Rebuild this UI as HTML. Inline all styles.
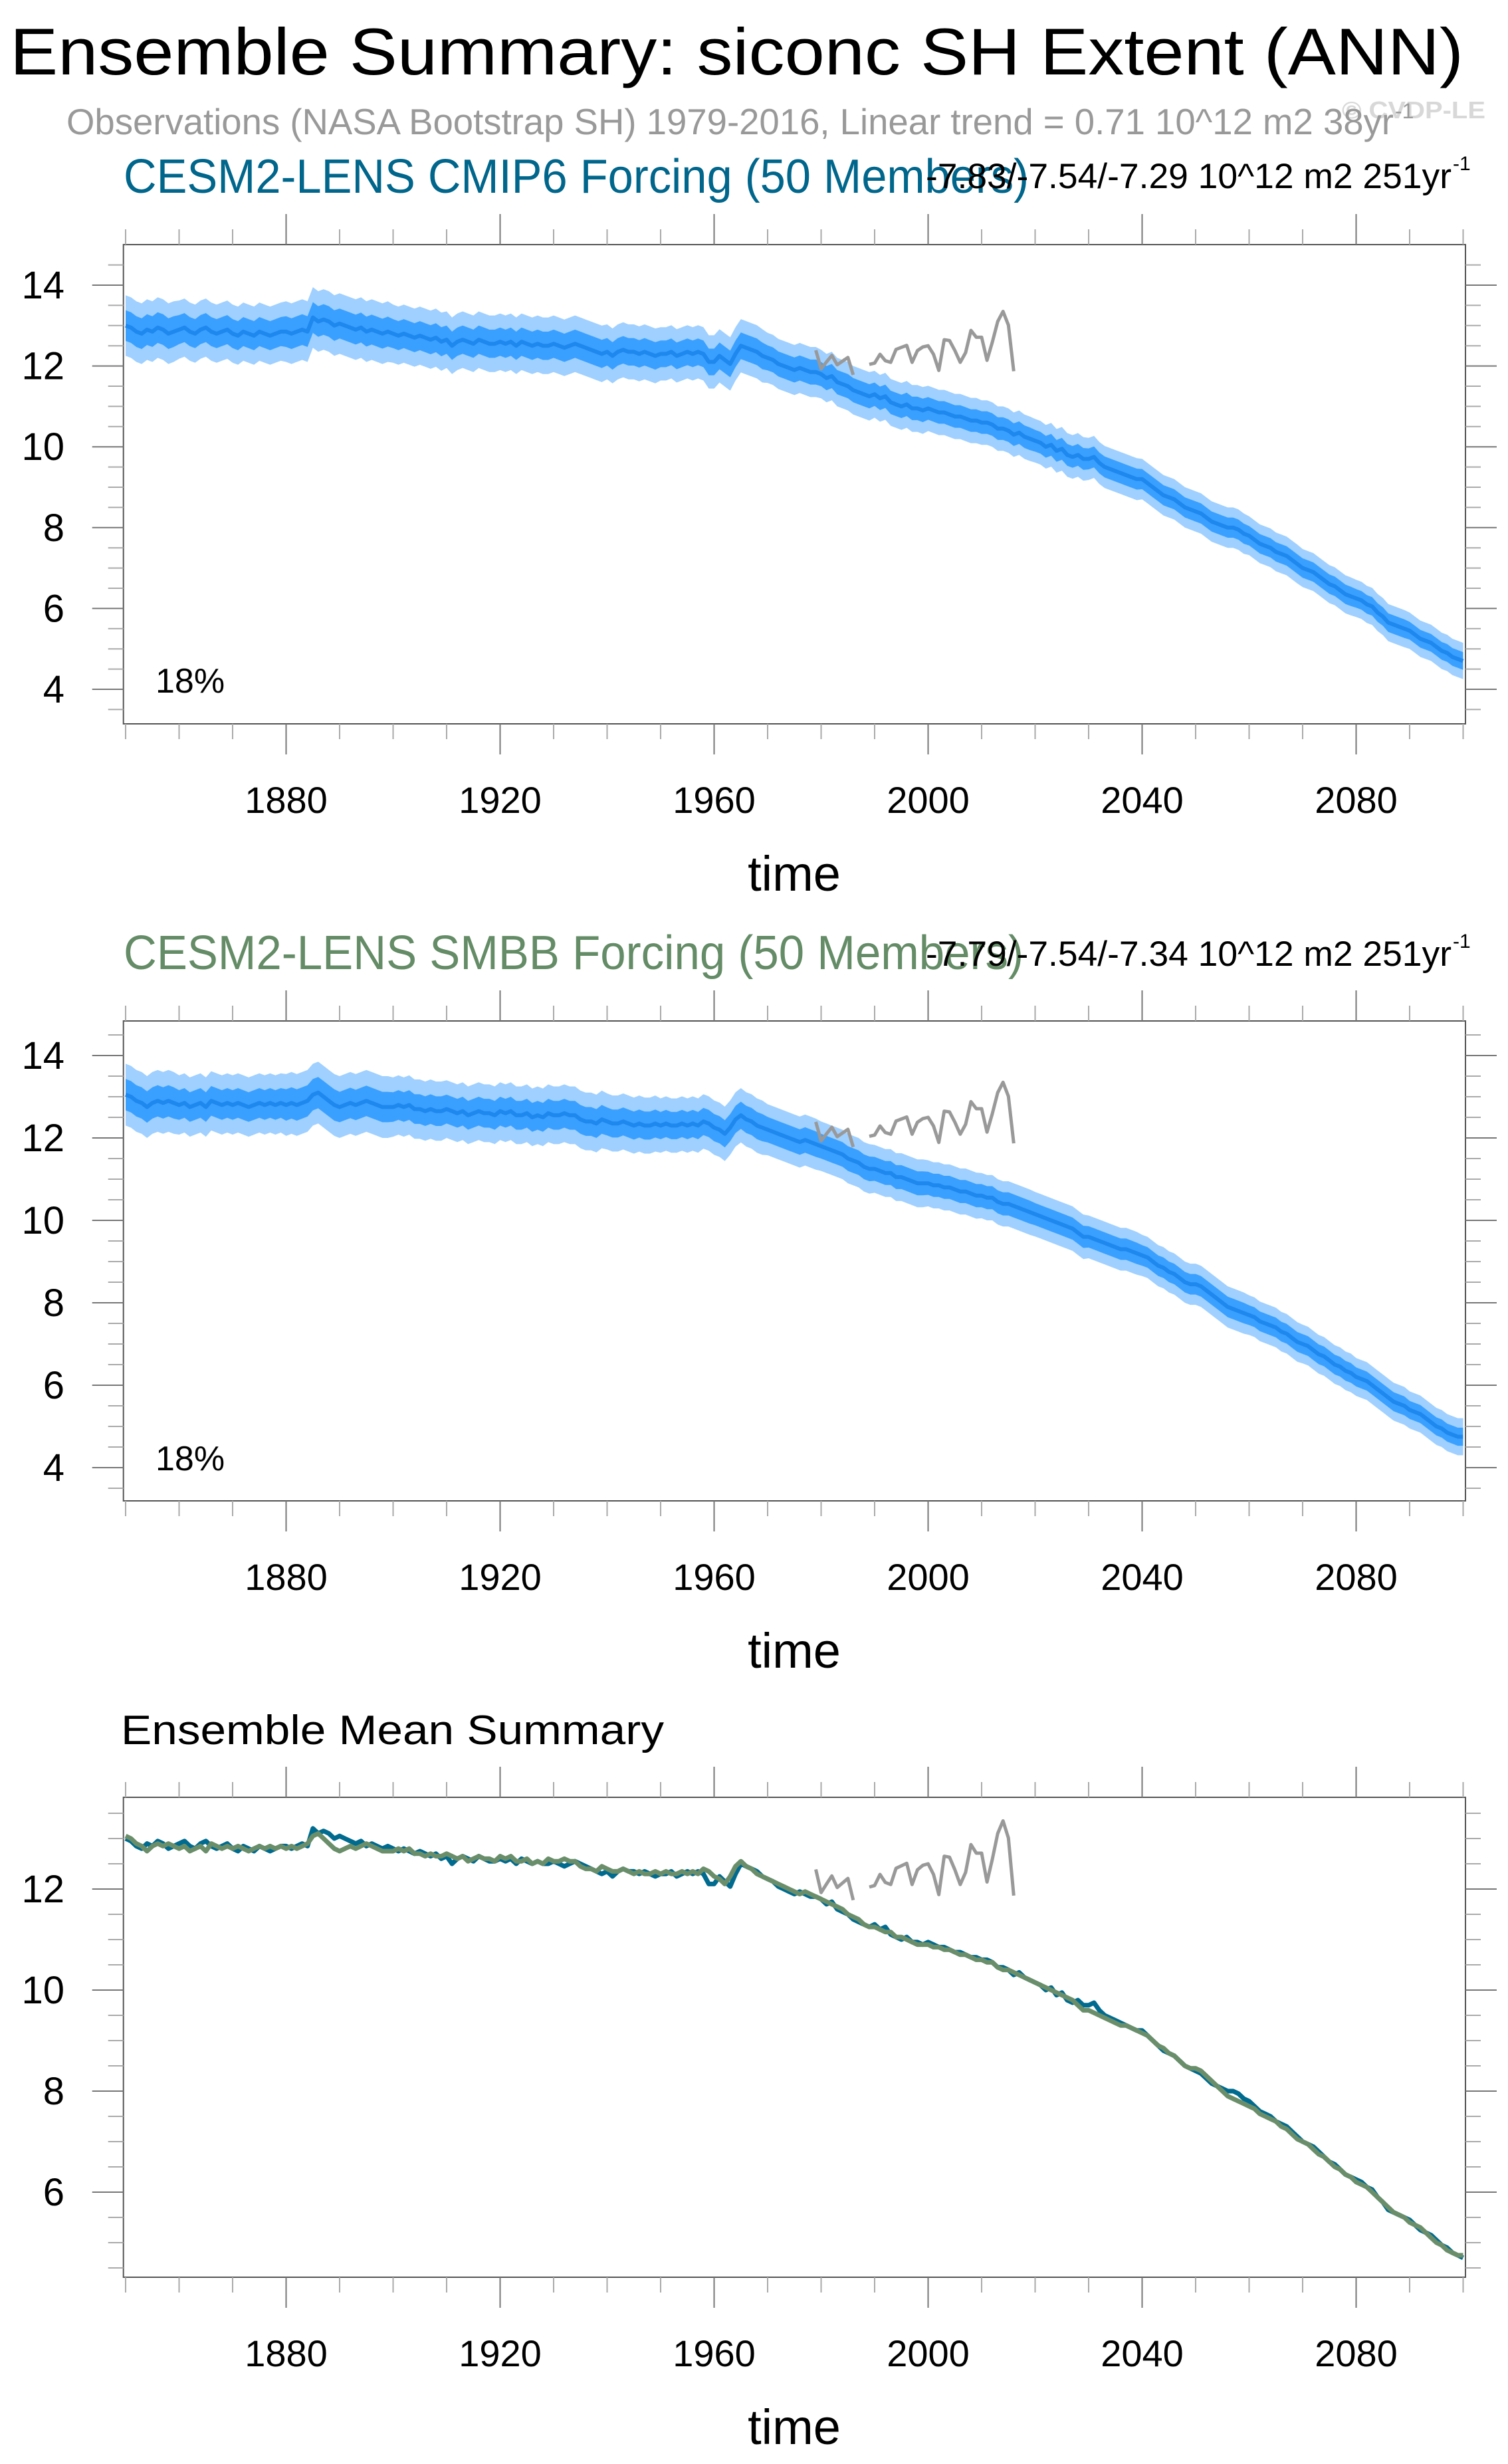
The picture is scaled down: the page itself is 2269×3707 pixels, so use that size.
<!DOCTYPE html>
<html><head><meta charset="utf-8">
<style>
html,body{margin:0;padding:0;background:#fff;}
svg{display:block;font-family:"Liberation Sans",Arial,sans-serif;}
</style></head>
<body>
<svg id="fig" width="2269" height="3707" viewBox="0 0 2269 3707" xmlns="http://www.w3.org/2000/svg">
<rect x="0" y="0" width="2269" height="3707" fill="#fff"/>
<text x="15" y="112" font-size="99" fill="#000" textLength="2187" lengthAdjust="spacingAndGlyphs">Ensemble Summary: siconc SH Extent (ANN)</text>
<text x="2019" y="178" font-size="36" font-weight="bold" fill="#d8d8d8" textLength="216" lengthAdjust="spacingAndGlyphs">© CVDP-LE</text>
<text x="100" y="202" font-size="55" fill="#999" textLength="1997" lengthAdjust="spacingAndGlyphs">Observations (NASA Bootstrap SH) 1979-2016, Linear trend = 0.71 10^12 m2 38yr</text>
<text x="2099" y="178" font-size="32" fill="#999">-1</text>

<text x="186" y="290" font-size="72" fill="#00668c" textLength="1362" lengthAdjust="spacingAndGlyphs">CESM2-LENS CMIP6 Forcing (50 Members)</text>
<text x="1393" y="283" font-size="53" fill="#000" textLength="791" lengthAdjust="spacingAndGlyphs">-7.83/-7.54/-7.29 10^12 m2 251yr</text>
<text x="2186" y="256" font-size="30" fill="#000">-1</text>

<text x="186" y="1458" font-size="72" fill="#648c66" textLength="1354" lengthAdjust="spacingAndGlyphs">CESM2-LENS SMBB Forcing (50 Members)</text>
<text x="1393" y="1453" font-size="53" fill="#000" textLength="791" lengthAdjust="spacingAndGlyphs">-7.79/-7.54/-7.34 10^12 m2 251yr</text>
<text x="2186" y="1426" font-size="30" fill="#000">-1</text>

<text x="182" y="2624" font-size="62" fill="#000" textLength="817" lengthAdjust="spacingAndGlyphs">Ensemble Mean Summary</text>
<g id="plots"></g>
</svg>
<script>
const years = [];
for (let yr = 1850; yr <= 2100; yr++) years.push(yr);

const cmip6Mean = [
13.00,12.95,12.85,12.80,12.90,12.85,12.95,12.90,12.80,12.85,
12.90,12.95,12.85,12.80,12.90,12.95,12.85,12.80,12.85,12.90,
12.80,12.75,12.85,12.80,12.75,12.85,12.80,12.75,12.80,12.85,
12.85,12.80,12.85,12.90,12.85,13.20,13.10,13.15,13.10,13.00,
13.05,13.00,12.95,12.90,12.95,12.85,12.90,12.85,12.80,12.85,
12.80,12.75,12.80,12.75,12.70,12.75,12.70,12.65,12.70,12.60,
12.65,12.50,12.60,12.65,12.60,12.55,12.65,12.60,12.55,12.55,
12.60,12.55,12.60,12.50,12.60,12.55,12.50,12.55,12.50,12.50,
12.55,12.50,12.45,12.50,12.55,12.50,12.45,12.40,12.35,12.30,
12.35,12.25,12.35,12.40,12.35,12.35,12.30,12.35,12.30,12.25,
12.30,12.30,12.35,12.25,12.30,12.35,12.30,12.35,12.30,12.10,
12.10,12.25,12.15,12.05,12.30,12.50,12.45,12.40,12.35,12.25,
12.20,12.15,12.05,12.00,11.95,11.90,11.95,11.90,11.85,11.85,
11.80,11.70,11.75,11.60,11.55,11.50,11.40,11.35,11.30,11.25,
11.30,11.20,11.25,11.10,11.05,11.00,11.05,10.95,10.95,10.90,
10.95,10.90,10.85,10.85,10.80,10.75,10.75,10.70,10.65,10.65,
10.60,10.60,10.55,10.45,10.45,10.40,10.30,10.35,10.25,10.20,
10.15,10.10,10.00,10.05,9.90,9.95,9.80,9.75,9.80,9.70,
9.70,9.75,9.60,9.50,9.45,9.40,9.35,9.30,9.25,9.20,
9.20,9.10,9.00,8.90,8.80,8.75,8.70,8.60,8.50,8.45,
8.40,8.35,8.25,8.15,8.10,8.05,8.00,8.00,7.95,7.85,
7.80,7.70,7.60,7.55,7.50,7.40,7.35,7.30,7.20,7.10,
7.00,6.95,6.90,6.80,6.70,6.60,6.55,6.45,6.35,6.30,
6.25,6.20,6.10,6.05,5.90,5.80,5.65,5.60,5.55,5.50,
5.45,5.35,5.25,5.20,5.15,5.05,4.95,4.90,4.80,4.75,
4.70];

const smbbMean = [
13.05,13.00,12.90,12.85,12.75,12.85,12.90,12.85,12.90,12.85,
12.80,12.85,12.75,12.80,12.85,12.75,12.90,12.85,12.80,12.85,
12.80,12.85,12.80,12.75,12.80,12.85,12.80,12.85,12.80,12.85,
12.80,12.85,12.80,12.85,12.90,13.05,13.10,13.00,12.90,12.80,
12.75,12.80,12.85,12.80,12.85,12.90,12.85,12.80,12.75,12.75,
12.75,12.80,12.75,12.80,12.70,12.70,12.65,12.70,12.65,12.65,
12.70,12.65,12.60,12.65,12.55,12.60,12.65,12.60,12.60,12.55,
12.65,12.60,12.65,12.55,12.55,12.60,12.50,12.55,12.50,12.60,
12.55,12.55,12.60,12.55,12.55,12.45,12.40,12.40,12.35,12.45,
12.40,12.35,12.35,12.40,12.35,12.30,12.35,12.30,12.30,12.35,
12.30,12.35,12.30,12.30,12.35,12.30,12.35,12.30,12.40,12.35,
12.25,12.20,12.10,12.25,12.45,12.55,12.45,12.40,12.30,12.25,
12.20,12.15,12.10,12.05,12.00,11.95,11.90,11.95,11.90,11.85,
11.80,11.75,11.70,11.65,11.60,11.50,11.45,11.40,11.30,11.25,
11.25,11.20,11.15,11.15,11.05,11.05,11.00,10.95,10.90,10.90,
10.90,10.85,10.85,10.80,10.80,10.75,10.70,10.70,10.65,10.60,
10.60,10.55,10.55,10.45,10.40,10.40,10.35,10.30,10.25,10.20,
10.15,10.10,10.05,10.00,9.95,9.90,9.85,9.80,9.70,9.60,
9.60,9.55,9.50,9.45,9.40,9.35,9.30,9.30,9.25,9.20,
9.15,9.10,9.00,8.90,8.85,8.75,8.70,8.60,8.50,8.45,
8.45,8.40,8.30,8.20,8.10,8.00,7.90,7.85,7.80,7.75,
7.70,7.65,7.55,7.50,7.45,7.40,7.30,7.25,7.15,7.05,
7.00,6.95,6.85,6.75,6.70,6.60,6.50,6.45,6.35,6.30,
6.20,6.15,6.10,6.00,5.90,5.80,5.70,5.60,5.55,5.50,
5.40,5.35,5.30,5.20,5.10,5.00,4.95,4.85,4.80,4.75,
4.75];

// per-decade spread half-widths (1850s ... 2090s, 2100)
const outerSpread = [0.75,0.72,0.72,0.75,0.75,0.72,0.70,0.70,0.70,0.68,0.66,0.66,0.62,0.60,0.58,0.56,0.55,0.54,0.52,0.50,0.50,0.48,0.47,0.46,0.45,0.45];
const innerSpread = [0.38,0.36,0.36,0.38,0.37,0.36,0.35,0.35,0.35,0.34,0.33,0.33,0.31,0.30,0.29,0.28,0.28,0.27,0.26,0.25,0.25,0.24,0.24,0.23,0.22,0.22];

const obsYears = [];
for (let yr = 1979; yr <= 2016; yr++) obsYears.push(yr);
const obsValues = [12.39,11.93,12.10,12.26,12.03,12.12,12.21,11.78,null,null,
12.04,12.07,12.29,12.13,12.09,12.41,12.46,12.51,12.09,12.38,
12.47,12.50,12.29,11.89,12.65,12.63,12.38,12.09,12.33,12.88,
12.71,12.71,12.14,12.59,13.10,13.35,13.01,11.87];

const xTickYears = [];
for (let yr = 1850; yr <= 2100; yr += 10) xTickYears.push(yr);
const xLabelYears = [1880,1920,1960,2000,2040,2080];

const NS = 'http://www.w3.org/2000/svg';
const root = document.getElementById('plots');
const X0 = 189, PXYR = 8.05, FL = 185.7, FR = 2205;
function xs(yr){ return X0 + (yr - 1850) * PXYR; }

function mk(tag, attrs, parent){
  const e = document.createElementNS(NS, tag);
  for (const k in attrs) e.setAttribute(k, attrs[k]);
  (parent || root).appendChild(e);
  return e;
}

function drawPanel(p){
  const g = mk('g', {});
  
  
  const ys = v => p.anchorY - (v - p.anchorV) * p.ppu;
  const vTop = p.anchorV + (p.anchorY - p.top) / p.ppu;
  const vBot = p.anchorV - (p.bottom - p.anchorY) / p.ppu;

  if (p.bands) {
    const bandDefs = [[outerSpread, '#a0d0ff', 'outer-spread-band'], [innerSpread, '#3aa0ff', 'inner-spread-band']];
    for (const [sp, col, nm] of bandDefs) {
      let up = '', dn = '';
      for (let i = 0; i < years.length; i++) {
        const h = sp[Math.floor(i / 10)];
        up += (i ? 'L' : 'M') + xs(years[i]).toFixed(1) + ',' + ys(p.bands[i] + h).toFixed(1);
      }
      for (let i = years.length - 1; i >= 0; i--) {
        const h = sp[Math.floor(i / 10)];
        dn += 'L' + xs(years[i]).toFixed(1) + ',' + ys(p.bands[i] - h).toFixed(1);
      }
      const b = mk('path', {d: up + dn + 'Z', fill: col, stroke: 'none'}, g);
      
      
    }
  }
  for (const s of p.series) {
    let d = '';
    for (let i = 0; i < years.length; i++) d += (i ? 'L' : 'M') + xs(years[i]).toFixed(1) + ',' + ys(s.data[i]).toFixed(1);
    const l = mk('path', {d: d, fill: 'none', stroke: s.color, 'stroke-width': s.w, 'stroke-linejoin': 'round'}, g);
    
    
  }
  let od = '', pen = false;
  for (let i = 0; i < obsYears.length; i++) {
    if (obsValues[i] === null) { pen = false; continue; }
    od += (pen ? 'L' : 'M') + xs(obsYears[i]).toFixed(1) + ',' + ys(obsValues[i]).toFixed(1);
    pen = true;
  }
  const ol = mk('path', {d: od, fill: 'none', stroke: '#999', 'stroke-width': 5, 'stroke-linejoin': 'round'}, g);
  
  

  const fr = mk('rect', {x: FL, y: p.top, width: FR - FL, height: p.bottom - p.top, fill: 'none', stroke: '#555', 'stroke-width': 2}, g);
  
  

  for (const yr of xTickYears) {
    const x = xs(yr);
    const major = xLabelYears.indexOf(yr) >= 0;
    const L = major ? 46 : 23;
    const c = major ? '#777' : '#aaa';
    const t1 = mk('line', {x1: x, x2: x, y1: p.top - L, y2: p.top, stroke: c, 'stroke-width': 2}, g);
    
    
    const t2 = mk('line', {x1: x, x2: x, y1: p.bottom, y2: p.bottom + L, stroke: c, 'stroke-width': 2}, g);
    
    
  }
  for (const yr of xLabelYears) {
    const t = mk('text', {x: xs(yr), y: p.bottom + 134, 'font-size': 56, 'text-anchor': 'middle', fill: '#000'}, g);
    t.textContent = String(yr);
    
    
  }
  const xt = mk('text', {x: 1195, y: p.bottom + 251, 'font-size': 74, 'text-anchor': 'middle', fill: '#000'}, g);
  xt.textContent = 'time';
  
  

  const start = Math.ceil(vBot * 2) / 2, end = Math.floor(vTop * 2) / 2;
  for (let v = start; v <= end + 1e-9; v += 0.5) {
    const y = ys(v);
    if (y - p.top < 5 || p.bottom - y < 5) continue;
    const major = Math.abs(v / 2 - Math.round(v / 2)) < 1e-6;
    const L = major ? 47 : 23;
    const c = major ? '#777' : '#aaa';
    const a = mk('line', {x1: FL - L, x2: FL, y1: y, y2: y, stroke: c, 'stroke-width': 2}, g);
    
    
    const b = mk('line', {x1: FR, x2: FR + L, y1: y, y2: y, stroke: c, 'stroke-width': 2}, g);
    
    
    if (major) {
      const t = mk('text', {x: 97, y: y + 20, 'font-size': 58, 'text-anchor': 'end', fill: '#000'}, g);
      t.textContent = String(Math.round(v));
      
      
    }
  }
  if (p.pct) {
    const t = mk('text', {x: 234, y: p.pctY, 'font-size': 52, fill: '#000'}, g);
    t.textContent = p.pct;
    
    
  }
}

drawPanel({name: 'cmip6-panel', top: 368, bottom: 1089, anchorV: 14, anchorY: 429, ppu: 60.8,
  bands: cmip6Mean, series: [{data: cmip6Mean, color: '#1e88ee', w: 6, name: 'cmip6-ensemble-mean-line'}], pct: '18%', pctY: 1042});
drawPanel({name: 'smbb-panel', top: 1536, bottom: 2258, anchorV: 14, anchorY: 1588, ppu: 62,
  bands: smbbMean, series: [{data: smbbMean, color: '#1e88ee', w: 6, name: 'smbb-ensemble-mean-line'}], pct: '18%', pctY: 2212});
drawPanel({name: 'ensemble-mean-panel', top: 2704, bottom: 3426, anchorV: 12, anchorY: 2842, ppu: 76,
  bands: null, series: [{data: cmip6Mean, color: '#006b8f', w: 7, name: 'cmip6-mean-line'}, {data: smbbMean, color: '#6a8e6a', w: 7, name: 'smbb-mean-line'}]});
</script>
</body></html>
